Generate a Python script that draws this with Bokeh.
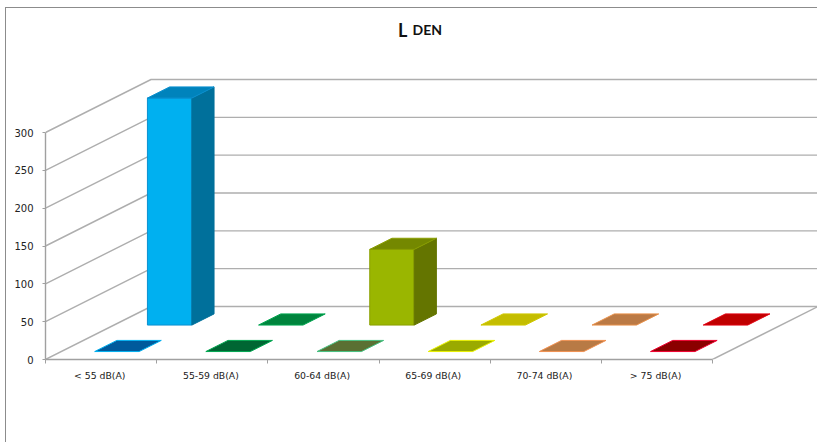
from bokeh.embed import file_html
from bokeh.resources import INLINE
from bokeh.plotting import figure
from bokeh.models import ColumnDataSource, FixedTicker, InlineStyleSheet, Label

# Noise exposure bands and counts, one list per depth row
categories = ["< 55 dB(A)", "55-59 dB(A)", "60-64 dB(A)", "65-69 dB(A)", "70-74 dB(A)", "> 75 dB(A)"]
front_row = [0, 0, 0, 0, 0, 0]
back_row = [300, 0, 100, 0, 0, 0]
value_ticks = [0, 50, 100, 150, 200, 250, 300]

# Colours per band: (front face, side face, top face, outline)
front_colors = [
    ("#00b0f0", "#00709b", "#005a9c", "#00b0f0"),
    ("#00a650", "#00662f", "#006633", "#00a650"),
    ("#50b070", "#3f5a28", "#5a7033", "#45c080"),
    ("#c4d000", "#6a7500", "#9aaa00", "#e8f000"),
    ("#e89050", "#8a5a30", "#b87a45", "#f09050"),
    ("#f00000", "#600000", "#8b0000", "#f00030"),
]
back_colors = [
    ("#00b0f0", "#00709b", "#0083bc", "#0a90d0"),
    ("#00a650", "#00662f", "#00843d", "#00a650"),
    ("#9ab600", "#647500", "#748800", "#8a9f00"),
    ("#c4bd00", "#7a7500", "#c4bd00", "#d0c800"),
    ("#e89050", "#8a5a30", "#bb7a45", "#e8904a"),
    ("#f00000", "#800000", "#c00000", "#e00010"),
]

# Frame geometry in pixels
WIDTH, HEIGHT = 817, 442
LEFT, BASE = 45, 359
CAT_PX = (712 - 45) / 6
VAL_PX = 227 / 300
DEPTH_PX_X, DEPTH_PX_Y = 105.5, 53

# Oblique depth offset expressed in data units
DX = DEPTH_PX_X / CAT_PX
DY = DEPTH_PX_Y / VAL_PX
BAR_START, BAR_END = 0.3, 0.7
ROWS = [(front_row, 0.15, 0.36, front_colors), (back_row, 0.65, 0.86, back_colors)]
LABEL_POS = 0.488


def project(cat, val, depth):
    return cat + depth * DX, val + depth * DY


def quad(points):
    pts = [project(*pt) for pt in points]
    return [pt[0] for pt in pts], [pt[1] for pt in pts]


def px_x(px):
    return (px - LEFT) / CAT_PX


def px_y(py):
    return (BASE - py) / VAL_PX


x_end = (WIDTH - LEFT) / CAT_PX
y_end = BASE / VAL_PX

# Chart border as page styling: only its top and left edges fall on the page
border = InlineStyleSheet(css="""
:host::after {
  content: "";
  position: absolute;
  left: 5px; top: 7px; right: -5px; bottom: -5px;
  border-left: 1px solid #8c8c8c;
  border-top: 1px solid #8c8c8c;
  pointer-events: none;
}
""")

p = figure(
    width=WIDTH, height=HEIGHT,
    x_range=(0, x_end), y_range=(0, y_end),
    output_backend="svg", toolbar_location=None,
    min_border_left=LEFT, min_border_right=0, min_border_top=0,
    min_border_bottom=HEIGHT - BASE,
    stylesheets=[border],
)
p.xgrid.visible = False
p.ygrid.visible = False
p.outline_line_color = None
p.background_fill_color = "white"
p.border_fill_color = "white"

GRID = "#aeaeae"
AXIS = "#a0a0a0"

# Wall gridlines: slanted up the side wall, then straight across the back
for v in value_ticks:
    x0, y0 = project(0, v, 0)
    x1, y1 = project(0, v, 1)
    p.line([x0, x1, x_end], [y0, y1, y1], line_color=GRID, line_width=1.4)

# Right-hand edge of the floor
x0, y0 = project(6, 0, 0)
x1, y1 = project(6, 0, 1)
p.line([x0, x1], [y0, y1], line_color=GRID, line_width=1.4)

# Bars: back row first, each one built from front, side and top faces
xs, ys, fills, lines = [], [], [], []
for values, d0, d1, colors in reversed(ROWS):
    for i, v in enumerate(values):
        a, b = i + BAR_START, i + BAR_END
        face, side, top, edge = colors[i]
        if v > 0:
            fx, fy = quad([(a, 0, d0), (b, 0, d0), (b, v, d0), (a, v, d0)])
            xs.append(fx); ys.append(fy); fills.append(face); lines.append(edge)
            sx, sy = quad([(b, 0, d0), (b, 0, d1), (b, v, d1), (b, v, d0)])
            xs.append(sx); ys.append(sy); fills.append(side); lines.append(side)
        tx, ty = quad([(a, v, d0), (b, v, d0), (b, v, d1), (a, v, d1)])
        xs.append(tx); ys.append(ty); fills.append(top); lines.append(edge)

p.patches("xs", "ys", source=ColumnDataSource(dict(xs=xs, ys=ys, fill=fills, line=lines)),
          fill_color="fill", line_color="line", line_width=1)

# Value axis
yax = p.yaxis[0]
yax.ticker = FixedTicker(ticks=value_ticks)
yax.bounds = (0, 300)
yax.axis_line_color = AXIS
yax.axis_line_width = 1.4
yax.major_tick_line_color = AXIS
yax.major_tick_in = 0
yax.major_tick_out = 3
yax.minor_tick_line_color = None
yax.major_label_text_font = "DejaVu Sans"
yax.major_label_text_font_size = "10px"
yax.major_label_text_color = "#222222"
yax.major_label_standoff = 9

# Band axis: labels sit between the boundary ticks
xax = p.xaxis[0]
xax.ticker = FixedTicker(ticks=[i + LABEL_POS for i in range(6)], minor_ticks=list(range(7)))
xax.major_label_overrides = {i + LABEL_POS: c for i, c in enumerate(categories)}
xax.bounds = (0, 6)
xax.axis_line_color = AXIS
xax.axis_line_width = 1.4
xax.major_tick_line_color = None
xax.major_tick_in = 0
xax.major_tick_out = 0
xax.minor_tick_line_color = AXIS
xax.minor_tick_in = 0
xax.minor_tick_out = 4
xax.major_label_text_font = "DejaVu Sans"
xax.major_label_text_font_size = "9.3px"
xax.major_label_text_color = "#222222"
xax.major_label_standoff = 6

# Title: a large L followed by a smaller DEN on the same baseline
p.add_layout(Label(x=px_x(397.5), y=px_y(29), text="L", text_font="Lato", text_baseline="alphabetic",
                   text_font_style="bold", text_font_size="18px", text_color="#111111"))
p.add_layout(Label(x=px_x(412), y=px_y(29), text="DEN", text_font="Lato", text_baseline="alphabetic",
                   text_font_style="bold", text_font_size="14px", text_color="#111111"))

open("out.html", "w").write(file_html(p, INLINE))
